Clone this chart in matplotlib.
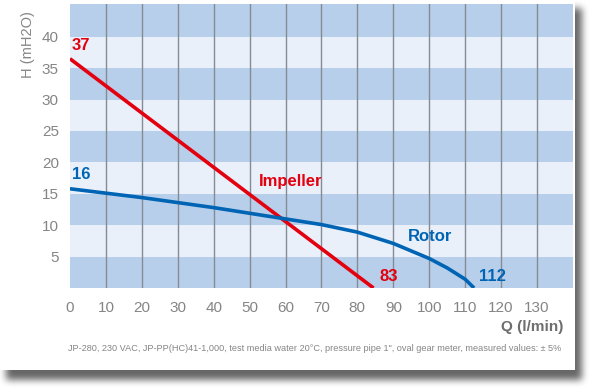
import numpy as np
import matplotlib.pyplot as plt
from matplotlib.patches import Rectangle

# Data
q_impeller = [0, 84.5]
h_impeller = [36.5, 0]

q_rotor = [0, 10, 20, 30, 40, 50, 60, 70, 80, 90, 100, 105, 110, 112.5]
h_rotor = [15.8, 15.1, 14.4, 13.6, 12.8, 11.9, 11.0, 10.1, 8.9, 7.1, 4.7, 3.2, 1.4, 0]

x_ticks = [0, 10, 20, 30, 40, 50, 60, 70, 80, 90, 100, 110, 120, 130]
y_ticks = [5, 10, 15, 20, 25, 30, 35, 40]

red = '#e3000f'
blue = '#0064b4'
grey = '#858585'
plt.rcParams['font.family'] = ['Liberation Sans', 'DejaVu Sans']

W, H = 591, 390
fig = plt.figure(figsize=(5.91, 3.90), dpi=100)
fig.patch.set_facecolor('white')

# soft drop shadow behind the white card
bg = fig.add_axes([0, 0, 1, 1])
bg.set_axis_off()
mask = np.zeros((H, W))
mask[8:380, 6:582] = 1.0
k = np.ones(7) / 7.0
for _ in range(3):
    mask = np.apply_along_axis(lambda r: np.convolve(r, k, mode='same'), 1, mask)
    mask = np.apply_along_axis(lambda c: np.convolve(c, k, mode='same'), 0, mask)
rgba = np.zeros((H, W, 4))
rgba[..., 3] = mask * 0.6
bg.imshow(rgba, extent=(0, W, H, 0), aspect='auto')
bg.add_patch(Rectangle((0, 0), 575, 370, facecolor='white', edgecolor='none'))
bg.set_xlim(0, W)
bg.set_ylim(H, 0)

ax = fig.add_axes([0.1184, 0.2615, 0.851, 0.728])
ax.set_xlim(0, 140)
ax.set_ylim(0, 45.2)

# horizontal bands
for i, y0 in enumerate(range(0, 45, 5)):
    col = '#b7cfea' if i % 2 == 0 else '#e9f0fa'
    ax.axhspan(y0, y0 + 5, color=col, lw=0, zorder=0)
ax.axhspan(45, 45.2, color='#b7cfea', lw=0, zorder=0)

# vertical grid lines
for xv in x_ticks[1:]:
    ax.axvline(xv, color='#858b95', lw=1.0, zorder=1)

ax.plot(q_impeller, h_impeller, color=red, lw=2.6, zorder=3, solid_capstyle='butt')
ax.plot(q_rotor, h_rotor, color=blue, lw=2.6, zorder=3, solid_capstyle='butt')

ax.text(0.5, 38.6, '37', color=red, fontsize=12, fontweight='bold', ha='left', va='center')
ax.text(0.5, 18.0, '16', color=blue, fontsize=12, fontweight='bold', ha='left', va='center')
ax.text(61.3, 17.0, 'Impeller', color=red, fontsize=12, fontweight='bold', ha='center', va='center')
ax.text(100.2, 8.2, 'Rotor', color=blue, fontsize=12, fontweight='bold', ha='center', va='center')
ax.text(88.8, 1.8, '83', color=red, fontsize=12, fontweight='bold', ha='center', va='center')
ax.text(117.5, 1.8, '112', color=blue, fontsize=12, fontweight='bold', ha='center', va='center')

for s in ax.spines.values():
    s.set_visible(False)
ax.set_xticks(x_ticks)
ax.set_yticks(y_ticks)
ax.tick_params(length=0, labelsize=11, labelcolor=grey, pad=9)
ax.tick_params(axis='y', pad=8)

fig.text(0.048, 0.885, 'H (mH2O)', rotation=90, color=grey, fontsize=10.5, ha='center', va='center')
fig.text(0.953, 0.161, 'Q (l/min)', color='#6e6e6e', fontsize=11, fontweight='bold', ha='right', va='center')
fig.text(0.115, 0.107, 'JP-280, 230 VAC, JP-PP(HC)41-1,000, test media water 20\u00b0C, pressure pipe 1", '
         'oval gear meter, measured values: \u00b1 5%', color=grey, fontsize=6.6, ha='left', va='center')

fig.savefig('out.png', dpi=100)
